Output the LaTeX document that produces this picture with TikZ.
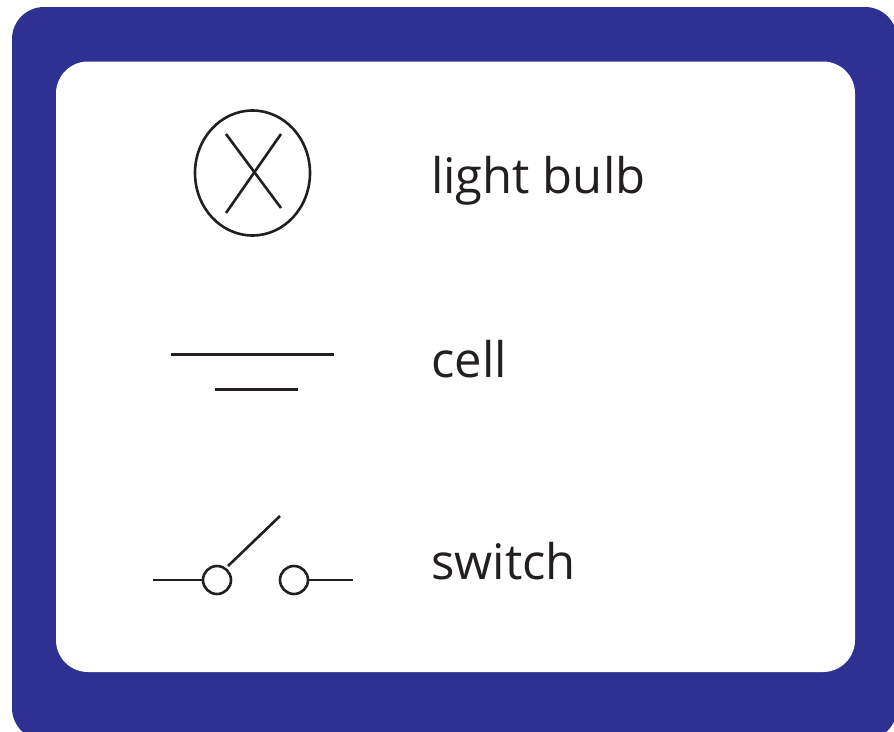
\documentclass[tikz,border=0pt]{standalone}
\usepackage{fontspec}
\usetikzlibrary{shapes.geometric}
\setmainfont{Open Sans}
\definecolor{panelblue}{RGB}{46,49,146}
\definecolor{ink}{RGB}{35,31,32}
\tikzset{
  sym/.style={draw=ink,line width=2.6pt},
  term/.style={circle,draw=ink,line width=2.6pt,fill=white,minimum size=28pt,inner sep=0pt,outer sep=0pt},
  lbl/.style={anchor=base west,text=ink,inner sep=0pt,font=\fontsize{49pt}{52pt}\selectfont}
}
\begin{document}
\begin{tikzpicture}[x=1pt,y=-1pt]
\useasboundingbox (0,0) rectangle (894,731);
\fill[white] (0,0) rectangle (894,731);
\clip (0,0) rectangle (894,731);
\fill[panelblue,rounded corners=32pt] (12,7) rectangle (897,740);
\fill[white,rounded corners=32pt] (56,61.5) rectangle (855,672);
% bulb
\node[sym,ellipse,minimum width=115pt,minimum height=125pt,inner sep=0pt] (bulb) at (252.5,173) {};
\coordinate (xa) at (226,134);\coordinate (xb) at (281,208);
\coordinate (xc) at (281,134);\coordinate (xd) at (226,213);
\draw[sym] (xa) -- (xb);
\draw[sym] (xc) -- (xd);
\node[lbl] (t1) at (431,193) {light bulb};
% cell
\coordinate (c1) at (171,354.5);\coordinate (c2) at (334,354.5);
\coordinate (c3) at (215,389.5);\coordinate (c4) at (298,389.5);
\draw[sym] (c1) -- (c2);
\draw[sym] (c3) -- (c4);
\node[lbl] (t2) at (431,377) {cell};
% switch
\node[term] (s1) at (217,580) {};
\node[term] (s2) at (294,580) {};
\coordinate (w1) at (153,580);\coordinate (w2) at (353,580);
\coordinate (w3) at (228,566);\coordinate (w4) at (280,516);
\draw[sym] (w1) -- (s1);
\draw[sym] (s2) -- (w2);
\draw[sym] (w3) -- (w4);
\node[lbl] (t3) at (431,579) {switch};
\end{tikzpicture}
\end{document}
